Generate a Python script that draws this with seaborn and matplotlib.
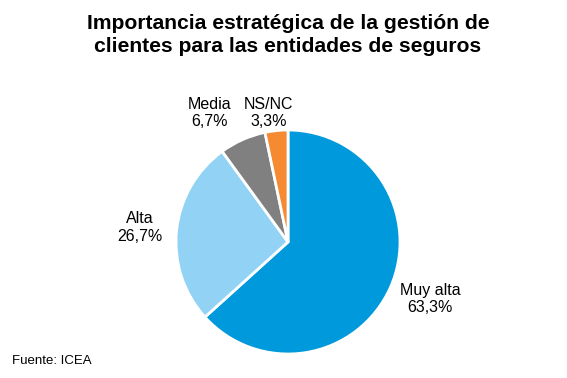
import numpy as np
import pandas as pd
import seaborn as sns
import matplotlib.pyplot as plt

# Data
categorias = ["Muy alta", "Alta", "Media", "NS/NC"]
valores = [63.3, 26.7, 6.7, 3.3]
colores = ["#0099DB", "#92D3F5", "#808080", "#F58A32"]
# label offsets (in pie radius units)
label_pos = [(1.27, -0.51), (-1.32, 0.13), (-0.70, 1.15), (-0.17, 1.15)]

sns.set_theme(style="white")
plt.rcParams["font.family"] = ["Liberation Sans", "DejaVu Sans"]

fig = plt.figure(figsize=(5.67, 3.78), dpi=100)
fig.patch.set_facecolor("white")

# Pie axis
ax = fig.add_axes([(288 - 112) / 567, (378 - 354) / 378, 224 / 567, 224 / 378])
ax.pie(valores, colors=colores, startangle=90, counterclock=False,
       wedgeprops=dict(edgecolor="white", linewidth=2))
ax.set_xlim(-1, 1)
ax.set_ylim(-1, 1)
ax.set_aspect("equal")
ax.axis("off")

for cat, val, (x, y) in zip(categorias, valores, label_pos):
    txt = f"{cat}\n{val:.1f}%".replace(".", ",")
    ax.text(x, y, txt, ha="center", va="center", fontsize=11.5,
            color="black", linespacing=1.2, clip_on=False)

fig.text(288 / 567, 1 - 35 / 378,
         "Importancia estratégica de la gestión de\nclientes para las entidades de seguros",
         ha="center", va="center", fontsize=15.2, fontweight="bold",
         color="black", linespacing=1.32)
fig.text(12 / 567, 1 - 361 / 378, "Fuente: ICEA", ha="left", va="center",
         fontsize=9.5, color="black")

fig.savefig("out.png", dpi=100)
